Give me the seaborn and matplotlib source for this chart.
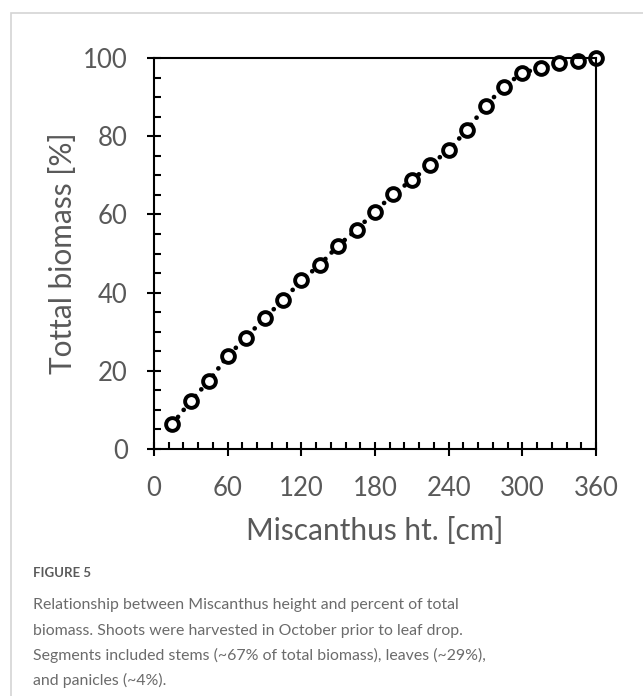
import matplotlib
matplotlib.use("Agg")
import matplotlib.pyplot as plt
import seaborn as sns
import pandas as pd
from matplotlib.patches import Rectangle
from matplotlib.ticker import MultipleLocator

height_cm = [15, 30, 45, 60, 75, 90, 105, 120, 135, 150, 165, 180,
             195, 210, 225, 240, 255, 270, 285, 300, 315, 330, 345, 360]
biomass_pct = [6.4, 12.3, 17.5, 23.8, 28.5, 33.5, 38.0, 43.1, 47.1, 52.0, 56.1, 60.7,
               65.2, 68.8, 72.6, 76.5, 81.6, 87.7, 92.7, 96.2, 97.4, 98.8, 99.3, 100.0]
x_ticks = [0, 60, 120, 180, 240, 300, 360]
y_ticks = [0, 20, 40, 60, 80, 100]

df = pd.DataFrame({"h": height_cm, "b": biomass_pct})

sns.set_style("white")
plt.rcParams["font.family"] = ["Lato", "DejaVu Sans"]

fig = plt.figure(figsize=(6.43, 6.96), dpi=100)
ax = fig.add_axes([154/643, 1-449/696, (596-154)/643, (449-58)/696])

sns.lineplot(data=df, x="h", y="b", ax=ax, color="black",
             linestyle=(0, (0.01, 1.9)), linewidth=3.4, dash_capstyle="round",
             marker="o", markersize=9.2, markerfacecolor="white",
             markeredgecolor="black", markeredgewidth=2.8, clip_on=False)

ax.set_xlim(0, 360)
ax.set_ylim(0, 100)
ax.set_xticks(x_ticks)
ax.set_yticks(y_ticks)
ax.xaxis.set_minor_locator(MultipleLocator(12))
ax.yaxis.set_minor_locator(MultipleLocator(5))

grey = "#595959"
ax.tick_params(bottom=True, left=True, top=False, right=False, which="both")
ax.tick_params(axis="both", which="major", direction="inout", length=10.5, width=1.5,
               color="black", labelsize=18.5, labelcolor=grey)
ax.tick_params(axis="x", which="major", pad=14)
ax.tick_params(axis="y", which="major", pad=13.5)
ax.tick_params(axis="both", which="minor", direction="in", length=5, width=1.5, color="black")

for s in ax.spines.values():
    s.set_visible(True)
    s.set_color("black")
    s.set_linewidth(1.5)

ax.set_xlabel("Miscanthus ht. [cm]", fontsize=21.5, color=grey, labelpad=12)
ax.set_ylabel("Tottal biomass [%]", fontsize=21.5, color=grey, labelpad=4.5)

# figure border
fig.patches.append(Rectangle((11/643, -0.1), 1.2, 1 - 13/696 + 0.1, transform=fig.transFigure,
                             fill=False, edgecolor="#d4d4d4", linewidth=1.2))

cap_color = "#6b6b6b"
fig.text(33/643, 1-577/696, "FIGURE 5", fontsize=9.5, color="#5a5a5a", fontweight="bold")
lines = ["Relationship between Miscanthus height and percent of total",
         "biomass. Shoots were harvested in October prior to leaf drop.",
         "Segments included stems (~67% of total biomass), leaves (~29%),",
         "and panicles (~4%)."]
for i, t in enumerate(lines):
    fig.text(33/643, 1-(609 + i*25.5)/696, t, fontsize=11.4, color=cap_color)

fig.savefig("out.png", dpi=100)
